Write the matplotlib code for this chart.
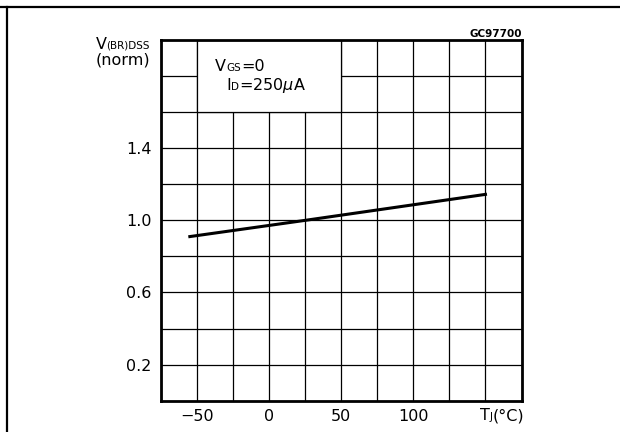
import matplotlib
matplotlib.use("Agg")
import matplotlib.pyplot as plt
import matplotlib.transforms as mtransforms
from matplotlib.patches import Rectangle
from matplotlib.lines import Line2D

# curve
temp_c = [-55, 25, 150]
vbr_norm = [0.91, 1.0, 1.144]

x_major = [-50, 0, 50, 100]
x_minor = [-75, -25, 25, 75, 125, 150, 175]
y_major = [0.2, 0.6, 1.0, 1.4]
y_minor = [0.4, 0.8, 1.2, 1.6, 1.8]

plt.rcParams["font.family"] = ["DejaVu Sans"]
FS = 11.5
SUB = 7.5


# draws text pieces side by side on one baseline (for the small subscript letters)
def draw_pieces(fig, x, y, pieces, transform):
    r = fig.canvas.get_renderer()
    t = transform
    for s, size in pieces:
        txt = fig.text(x, y, s, fontsize=size, transform=t, va="baseline", ha="left")
        w = txt.get_window_extent(r).width
        t = mtransforms.offset_copy(t, fig=fig, x=w, y=0, units="dots")


fig = plt.figure(figsize=(6.2, 4.32), dpi=100)
ax = fig.add_axes([161 / 620, 1 - 400.7 / 432, 360.5 / 620, 360.7 / 432])

ax.set_xlim(-75, 175)
ax.set_ylim(0, 2.0)
ax.set_xticks(x_major)
ax.set_xticklabels(["\u221250", "0", "50", "100"])
ax.set_xticks(x_minor, minor=True)
ax.set_yticks(y_major)
ax.set_yticklabels(["0.2", "0.6", "1.0", "1.4"])
ax.set_yticks(y_minor, minor=True)
ax.tick_params(which="both", length=0)
ax.tick_params(axis="x", pad=6, labelsize=FS)
ax.tick_params(axis="y", pad=7, labelsize=FS)
ax.grid(which="both", color="black", linewidth=0.9)
for sp in ax.spines.values():
    sp.set_linewidth(2)

# the legend box blanks the grid behind it
ax.add_patch(Rectangle((-50, 1.6), 100, 0.4, facecolor="white", edgecolor="black",
                       linewidth=0.9, zorder=1.6))

ax.plot(temp_c, vbr_norm, color="black", linewidth=2.2, zorder=3)

draw_pieces(fig, -37.5, 1.828, [("V", FS), ("GS", SUB), ("=0", FS)], ax.transData)
draw_pieces(fig, -29.9, 1.722, [("I", FS), ("D", SUB), ("=250$\\mu$A", FS)], ax.transData)

draw_pieces(fig, -0.182, 0.976, [("V", FS), ("(BR)DSS", SUB)], ax.transAxes)
fig.text(-0.182, 0.931, "(norm)", fontsize=FS, transform=ax.transAxes, va="baseline")
draw_pieces(fig, 0.885, -0.054, [("T", FS), ("J", SUB), ("(°C)", FS)], ax.transAxes)

ax.text(1.0, 1.009, "GC97700", fontsize=7.5, fontweight="bold", ha="right",
        va="baseline", transform=ax.transAxes)

# page frame lines
fig.add_artist(Line2D([0, 1], [1 - 6.7 / 432] * 2, color="black", linewidth=1.6,
                      transform=fig.transFigure))
fig.add_artist(Line2D([6.7 / 620] * 2, [0, 1 - 6.7 / 432], color="black", linewidth=1.6,
                      transform=fig.transFigure))

fig.savefig("out.png", dpi=100)
